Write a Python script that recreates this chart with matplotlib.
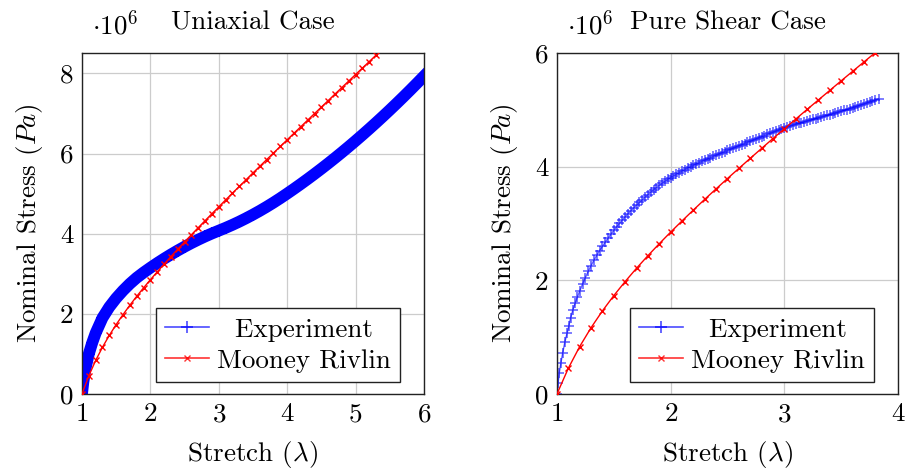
import numpy as np
import matplotlib.pyplot as plt
from matplotlib.lines import Line2D

plt.rcParams['font.family'] = 'cmr10'
plt.rcParams['mathtext.fontset'] = 'cm'
plt.rcParams['axes.formatter.use_mathtext'] = True
plt.rcParams['axes.unicode_minus'] = False

# uniaxial experiment (stretch, stress in 1e6 Pa)
uni_exp_lam = [1.0, 1.02, 1.05, 1.1, 1.15, 1.2, 1.3, 1.4, 1.5, 1.6, 1.7, 1.8, 1.9,
               2.0, 2.1, 2.2, 2.3, 2.4, 2.5, 2.6, 2.7, 2.8, 2.9, 3.0, 3.1, 3.2,
               3.3, 3.4, 3.5, 3.6, 3.7, 3.8, 3.9, 4.0, 4.1, 4.2, 4.3, 4.4, 4.5,
               4.6, 4.7, 4.8, 4.9, 5.0, 5.1, 5.2, 5.3, 5.4, 5.5, 5.6, 5.7, 5.8,
               5.9, 6.0]
uni_exp_p = [0.0, 0.3, 0.62, 1.0, 1.28, 1.52, 1.9, 2.17, 2.39, 2.58, 2.75, 2.9, 3.03,
             3.15, 3.265, 3.375, 3.48, 3.58, 3.675, 3.765, 3.85, 3.93, 4.005, 4.075,
             4.145, 4.22, 4.3, 4.385, 4.475, 4.57, 4.67, 4.775, 4.885, 5.0, 5.118,
             5.239, 5.363, 5.49, 5.62, 5.753, 5.889, 6.028, 6.17, 6.315, 6.463, 6.614,
             6.768, 6.925, 7.085, 7.248, 7.414, 7.583, 7.755, 7.93]

# Mooney Rivlin fit (same curve drawn in both panels)
mr_lam = [1.0, 1.1, 1.2, 1.3, 1.4, 1.5, 1.6, 1.7, 1.8, 1.9, 2.0, 2.1, 2.2, 2.3, 2.4,
          2.5, 2.6, 2.7, 2.8, 2.9, 3.0, 3.1, 3.2, 3.3, 3.4, 3.5, 3.6, 3.7, 3.8, 3.9,
          4.0, 4.1, 4.2, 4.3, 4.4, 4.5, 4.6, 4.7, 4.8, 4.9, 5.0, 5.1, 5.2, 5.3]
mr_p = [0.0, 0.454, 0.836, 1.168, 1.464, 1.733, 1.981, 2.215, 2.436, 2.647, 2.851,
        3.048, 3.24, 3.429, 3.613, 3.795, 3.973, 4.15, 4.325, 4.499, 4.67, 4.841,
        5.011, 5.179, 5.347, 5.515, 5.681, 5.847, 6.012, 6.177, 6.342, 6.505, 6.669,
        6.833, 6.996, 7.158, 7.321, 7.484, 7.646, 7.808, 7.97, 8.132, 8.293, 8.455]

# pure shear experiment
ps_exp_lam = [1.0, 1.01, 1.02, 1.035, 1.05, 1.07, 1.09, 1.105, 1.12, 1.14, 1.16, 1.18,
              1.2, 1.225, 1.25, 1.275, 1.3, 1.325, 1.35, 1.375, 1.4, 1.425, 1.45,
              1.475, 1.5, 1.525, 1.55, 1.575, 1.6, 1.625, 1.65, 1.675, 1.7, 1.725,
              1.75, 1.775, 1.8, 1.825, 1.85, 1.875, 1.9, 1.925, 1.95, 1.975, 2.0,
              2.025, 2.05, 2.075, 2.1, 2.125, 2.15, 2.175, 2.2, 2.225, 2.25, 2.275,
              2.3, 2.325, 2.35, 2.375, 2.4, 2.425, 2.45, 2.475, 2.5, 2.525, 2.55,
              2.575, 2.6, 2.625, 2.65, 2.675, 2.7, 2.725, 2.75, 2.775, 2.8, 2.825,
              2.85, 2.875, 2.9, 2.925, 2.95, 2.975, 3.0, 3.025, 3.05, 3.075, 3.1,
              3.125, 3.15, 3.175, 3.2, 3.225, 3.25, 3.275, 3.3, 3.325, 3.35, 3.375,
              3.4, 3.425, 3.45, 3.475, 3.5, 3.525, 3.55, 3.575, 3.6, 3.625, 3.65,
              3.675, 3.7, 3.725, 3.75, 3.775, 3.8, 3.83]
ps_exp_p = [0.0, 0.2, 0.37, 0.55, 0.72, 0.92, 1.08, 1.2, 1.34, 1.48, 1.6, 1.71,
            1.81, 1.935, 2.05, 2.16, 2.26, 2.355, 2.44, 2.525, 2.6, 2.675, 2.745,
            2.815, 2.88, 2.945, 3.005, 3.065, 3.12, 3.175, 3.225, 3.277, 3.325,
            3.373, 3.42, 3.466, 3.51, 3.553, 3.595, 3.636, 3.675, 3.712, 3.747,
            3.78, 3.812, 3.842, 3.87, 3.898, 3.925, 3.951, 3.977, 4.002, 4.027,
            4.051, 4.074, 4.097, 4.119, 4.141, 4.163, 4.185, 4.206, 4.227, 4.248,
            4.269, 4.289, 4.31, 4.33, 4.351, 4.371, 4.391, 4.411, 4.431, 4.451,
            4.471, 4.491, 4.511, 4.531, 4.551, 4.571, 4.591, 4.61, 4.63, 4.649,
            4.669, 4.688, 4.704, 4.72, 4.735, 4.75, 4.765, 4.779, 4.793, 4.807,
            4.821, 4.835, 4.849, 4.863, 4.877, 4.891, 4.906, 4.92, 4.935, 4.949,
            4.964, 4.979, 4.995, 5.01, 5.026, 5.042, 5.058, 5.075, 5.092, 5.108,
            5.125, 5.142, 5.16, 5.177, 5.2]

scale = 1e6
fs = 19.5

fig = plt.figure(figsize=(9.2, 4.7), dpi=100)
ax1 = fig.add_axes([0.0891, 0.1617, 0.3717, 0.7249])
ax2 = fig.add_axes([0.6054, 0.1617, 0.3707, 0.7249])

# uniaxial
ax1.plot(uni_exp_lam, np.array(uni_exp_p) * scale, color='blue', lw=8.5,
         marker='+', ms=8, mew=1.5, zorder=2)
ax1.plot(mr_lam, np.array(mr_p) * scale, color='red', lw=1, marker='x',
         ms=4.5, mew=1, zorder=3)
ax1.set_xlim(1, 6)
ax1.set_ylim(0, 8.5e6)
ax1.set_xticks([1, 2, 3, 4, 5, 6])
ax1.set_yticks([0, 2e6, 4e6, 6e6, 8e6])
ax1.set_title('Uniaxial Case', fontsize=fs, pad=17)

# pure shear
ax2.plot(ps_exp_lam, np.array(ps_exp_p) * scale, color='blue', lw=1, alpha=0.6,
         marker='+', ms=7, mew=1.2, zorder=2)
ax2.plot(mr_lam, np.array(mr_p) * scale, color='red', lw=1, marker='x',
         ms=4.5, mew=1, zorder=3)
ax2.set_xlim(1, 4)
ax2.set_ylim(0, 6e6)
ax2.set_xticks([1, 2, 3, 4])
ax2.set_yticks([0, 2e6, 4e6, 6e6])
ax2.set_title('Pure Shear Case', fontsize=fs, pad=17)

handles = [Line2D([], [], color='blue', alpha=0.7, lw=1.2, marker='+', ms=8, mew=1.2),
           Line2D([], [], color='red', alpha=0.8, lw=1.2, marker='x', ms=5, mew=1)]

for ax in (ax1, ax2):
    ax.yaxis.set_major_formatter(plt.FuncFormatter(lambda v, p: '%g' % (v / scale)))
    ax.annotate(r'$\cdot 10^{6}$', xy=(0, 1), xycoords='axes fraction',
                xytext=(7, 14), textcoords='offset points', fontsize=fs,
                ha='left', va='baseline')
    ax.grid(True, color='#cccccc', lw=0.9)
    ax.set_axisbelow(True)
    ax.tick_params(labelsize=fs, direction='in', length=0, pad=6)
    for s in ax.spines.values():
        s.set_color('#222222')
        s.set_linewidth(1.0)
    ax.set_xlabel(r'Stretch ($\lambda$)', fontsize=fs, labelpad=9)
    ax.set_ylabel(r'Nominal Stress ($Pa$)', fontsize=fs, labelpad=11)
    leg = ax.legend(handles, ['  Experiment', 'Mooney Rivlin'], loc='lower right',
                    bbox_to_anchor=(0.93, 0.035), borderaxespad=0, fontsize=fs,
                    fancybox=False, framealpha=1, edgecolor='#222222',
                    handlelength=1.6, borderpad=0.35, labelspacing=0.25,
                    handletextpad=0.3)
    leg.get_frame().set_linewidth(1.0)

fig.savefig('out.png', dpi=100)
